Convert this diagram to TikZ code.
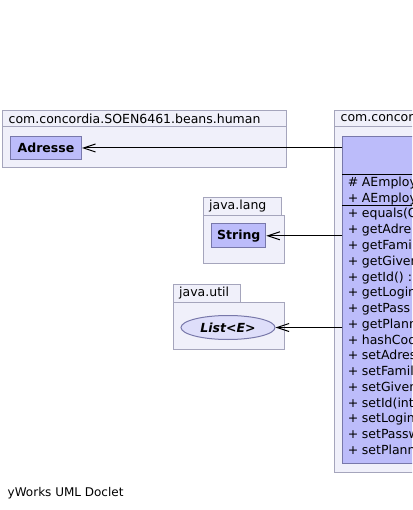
\documentclass[tikz,border=0pt]{standalone}
\usepackage{fontspec}
\setmainfont{DejaVu Sans}
\usetikzlibrary{arrows.meta,shapes.geometric}
\definecolor{pkgfill}{RGB}{240,240,250}
\definecolor{pkgdraw}{RGB}{165,165,188}
\definecolor{clsfill}{RGB}{188,188,250}
\definecolor{clsdraw}{RGB}{120,120,170}
\definecolor{ellfill}{RGB}{222,222,250}
\begin{document}
\begin{tikzpicture}[x=1pt,y=-1pt,
  pkg/.style={draw=pkgdraw, fill=pkgfill, line width=1pt, anchor=north west, inner sep=0pt},
  cls/.style={draw=clsdraw, fill=clsfill, line width=1pt, inner sep=0pt},
  dep/.style={draw=black, line width=1pt, -{Straight Barb[length=12pt,width=8pt]}},
  txt/.style={font=\fontsize{12.5}{14}\selectfont, inner sep=0pt},
  bold/.style={font=\fontsize{12.5}{14}\selectfont\bfseries, inner sep=0pt},
  row/.style={txt, anchor=base west},
]
\useasboundingbox (0,0) rectangle (412,510);
\fill[white] (0,0) rectangle (412,510);
\begin{scope}
\clip (0,0) rectangle (412,510);
% package human
\node[pkg, minimum width=284, minimum height=57] (pkgHuman) at (2,110) {};
\draw[pkgdraw, line width=1pt] (2,127) -- (286,127);
\node[txt, anchor=west] (pkgHumanT) at (8.5,118.5) {com.concordia.SOEN6461.beans.human};
\node[cls, anchor=north west, minimum width=71, minimum height=23, bold] (adresse) at (10,136) {Adresse};
% package java.lang
\node[pkg, minimum width=81, minimum height=47.7] (pkgLang) at (203.3,215) {};
\node[pkg, minimum width=77.4, minimum height=17.7] (pkgLangTab) at (203.3,197.3) {};
\node[txt, anchor=west] (pkgLangT) at (209,206.2) {java.lang};
\node[cls, anchor=north west, minimum width=54, minimum height=24, bold] (string) at (211.3,223.3) {String};
% package java.util
\node[pkg, minimum width=111, minimum height=47.6] (pkgUtil) at (173.3,301.7) {};
\node[pkg, minimum width=66.7, minimum height=17.7] (pkgUtilTab) at (173.3,284) {};
\node[txt, anchor=west] (pkgUtilT) at (179,292.9) {java.util};
\node[ellipse, draw=clsdraw, fill=ellfill, line width=1pt, minimum width=94, minimum height=24, inner sep=0pt, font=\fontsize{12.5}{14}\selectfont\bfseries\itshape] (list) at (228,327.5) {List<E>};
% package right
\node[pkg, minimum width=120, minimum height=362] (pkgBeans) at (334,110) {};
\draw[pkgdraw, line width=1pt] (334,127) -- (460,127);
\node[txt, anchor=west] (pkgBeansT) at (340.5,118.5) {com.concor};
\node[cls, anchor=north west, minimum width=120, minimum height=327] (emp) at (342.3,136) {};
\draw[black, line width=1pt] (342.3,174.3) -- (462.3,174.3);
\draw[black, line width=1pt] (342.3,206) -- (462.3,206);
\foreach \s/\t [count=\i from 0] in {\#/AEmploy, +/AEmploy}
  \node[row] (c\i) at (347.7,187+15.6*\i) {\s};
\node[row] (cn0) at (361.7,187) {AEmploy};
\node[row] (cn1) at (361.7,202.6) {AEmploy};
\foreach \t [count=\i from 0] in {equals(O,getAdre,getFami,getGiven,getId() :,getLogin,getPass,getPlann,hashCod,setAdres,setFamil,setGiven,setId(int,setLogin,setPassw,setPlann}{
  \node[row] (ms\i) at (347.7,218+15.75*\i) {+};
  \node[row] (m\i) at (361.7,218+15.75*\i) {\t};
}
% dependencies
\draw[dep] (adresse.east -| emp.west) -- (adresse.east);
\draw[dep] (string.east -| emp.west) -- (string.east);
\draw[dep] (list.east -| emp.west) -- (list.east);
\end{scope}
\node[anchor=base west, inner sep=0pt, font=\fontsize{12}{14}\selectfont] (footer) at (7.5,496.5) {yWorks UML Doclet};
\end{tikzpicture}
\end{document}
